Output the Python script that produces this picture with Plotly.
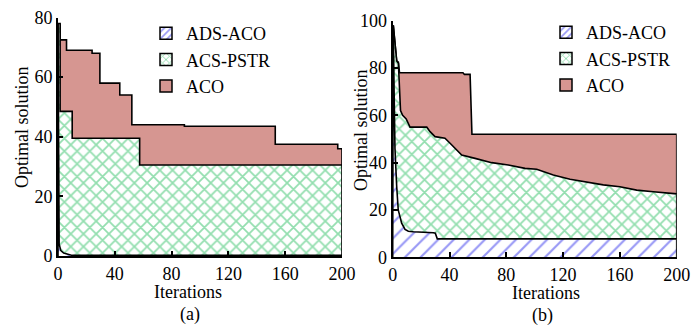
import plotly.graph_objects as go

W, H = 691, 331

# ---------------- data: panel (a) ----------------
a_aco_x = [0, 1.5, 6, 24, 29.5, 43.5, 52, 89, 153, 197, 200]
a_aco_y = [77.5, 72.5, 69, 68, 58, 54, 44, 43.5, 37.5, 36, 36]
a_acs_x = [0, 1.5, 10, 57.5, 200]
a_acs_y = [78, 48.5, 39.5, 30.5, 30.5]
a_ads_x = [0, 0.8, 2, 4, 10, 200]
a_ads_y = [78, 4, 1.8, 1, 0.2, 0.2]

# ---------------- data: panel (b) ----------------
b_aco_x = [0, 0.4, 2.8, 4, 4.8, 49.5, 50.5, 54.5, 55.8, 200]
b_aco_y = [92, 98, 83, 82.5, 78, 78, 77.3, 77.3, 52, 52]
b_acs_x = [0, 0.4, 2.8, 4, 5.5, 7, 9.5, 11.5, 12.2, 24, 26.3, 29.8, 36.8, 40.4,
           45.1, 48.6, 58, 69.7, 81.4, 93.2, 101.4, 113.1, 124.9, 136.6, 148.3,
           160, 171.8, 183.5, 198.8, 200]
b_acs_y = [92, 98, 83, 82, 62, 60, 58.5, 56, 55, 55, 53.1, 51, 50.3, 48.2,
           45.4, 43.2, 41.8, 40, 39, 37.6, 37.2, 34.8, 33, 31.7, 30.6,
           29.8, 28.4, 27.7, 27, 26.8]
b_ads_x = [0, 0.4, 1, 1.6, 2.8, 3.9, 6.3, 8.7, 11, 14.5, 28.6, 30, 31.4, 200]
b_ads_y = [92, 98, 70, 46, 30, 20, 14.4, 11.8, 11, 10.8, 10.4, 10.2, 7.8, 7.8]

names = ["ADS-ACO", "ACS-PSTR", "ACO"]
x_ticks = [0, 40, 80, 120, 160, 200]
ya_ticks = [0, 20, 40, 60, 80]
yb_ticks = [0, 20, 40, 60, 80, 100]

ACO_COLOR = "rgb(214,150,145)"
GREEN = "rgb(40,190,95)"
BLUE = "rgb(50,50,235)"
FONT = "Liberation Serif"

styles = {
    "ACO": dict(fillcolor=ACO_COLOR, pattern=None),
    "ACS-PSTR": dict(fillcolor="white",
                     pattern=dict(shape="x", fgcolor=GREEN, bgcolor="white", size=9, solidity=0.35)),
    "ADS-ACO": dict(fillcolor="white",
                    pattern=dict(shape="/", fgcolor=BLUE, bgcolor="white", size=11, solidity=0.2)),
}

fig = go.Figure()


def closed(xs, ys):
    # close the area down to zero so the outline frames the filled region
    return [xs[0]] + list(xs) + [xs[-1]], [0] + list(ys) + [0]


def add_area(name, xs, ys, xa, ya, shape):
    cx, cy = closed(xs, ys)
    st = styles[name]
    kw = dict(x=cx, y=cy, mode="lines", fill="toself", fillcolor=st["fillcolor"],
              line=dict(color="black", width=1.6, shape=shape),
              xaxis=xa, yaxis=ya, showlegend=False, hoverinfo="skip", name=name)
    if st["pattern"] is not None:
        kw["fillpattern"] = st["pattern"]
    fig.add_trace(go.Scatter(**kw))


# draw back-to-front
add_area("ACO", a_aco_x, a_aco_y, "x", "y", "hv")
add_area("ACS-PSTR", a_acs_x, a_acs_y, "x", "y", "hv")
add_area("ADS-ACO", a_ads_x, a_ads_y, "x", "y", "linear")
add_area("ACO", b_aco_x, b_aco_y, "x2", "y2", "linear")
add_area("ACS-PSTR", b_acs_x, b_acs_y, "x2", "y2", "linear")
add_area("ADS-ACO", b_ads_x, b_ads_y, "x2", "y2", "linear")

# legend entries (empty bars so the swatches show the patterns)
for leg, xa, ya in [("legend", "x", "y"), ("legend2", "x2", "y2")]:
    for nm in names:
        st = styles[nm]
        marker = dict(color=st["fillcolor"], line=dict(color="black", width=1.5))
        if st["pattern"] is not None:
            p = dict(st["pattern"])
            p["size"] = 6
            p["solidity"] = 0.35
            marker["pattern"] = p
        fig.add_trace(go.Bar(x=[None], y=[None], name=nm, marker=marker,
                             xaxis=xa, yaxis=ya, legend=leg, showlegend=True,
                             hoverinfo="skip"))

axis_common = dict(showline=True, linecolor="black", linewidth=2, ticks="inside",
                   ticklen=5, tickwidth=1.5, tickcolor="black", showgrid=False,
                   zeroline=False, automargin=False,
                   tickfont=dict(family=FONT, size=18, color="black"))

fig.update_layout(
    width=W, height=H,
    margin=dict(l=0, r=0, t=0, b=0),
    paper_bgcolor="white", plot_bgcolor="white",
    xaxis=dict(domain=[58 / W, 342 / W], range=[0, 200], tickvals=x_ticks, anchor="y", **axis_common),
    yaxis=dict(domain=[(H - 256) / H, (H - 17.5) / H], range=[0, 80], tickvals=ya_ticks, anchor="x", **axis_common),
    xaxis2=dict(domain=[392.7 / W, 676.7 / W], range=[0, 200], tickvals=x_ticks, anchor="y2", **axis_common),
    yaxis2=dict(domain=[(H - 257.3) / H, (H - 20.7) / H], range=[0, 100], tickvals=yb_ticks, anchor="x2", **axis_common),
    legend=dict(x=146 / W, y=1 - 15 / H, xanchor="left", yanchor="top",
                bgcolor="rgba(0,0,0,0)", font=dict(family=FONT, size=18, color="black")),
    legend2=dict(x=546 / W, y=1 - 14 / H, xanchor="left", yanchor="top",
                 bgcolor="rgba(0,0,0,0)", font=dict(family=FONT, size=18, color="black")),
    showlegend=True,
)


def ann(text, px, py, angle=0):
    fig.add_annotation(text=text, x=px / W, y=1 - py / H, xref="paper", yref="paper",
                       showarrow=False, textangle=angle, xanchor="center", yanchor="middle",
                       font=dict(family=FONT, size=18, color="black"))


ann("Iterations", 188, 292)
ann("(a)", 189.5, 314)
ann("Iterations", 546, 293)
ann("(b)", 542.5, 315)
ann("Optimal solution", 22, 127, -90)
ann("Optimal solution", 361, 130, -90)

fig.write_html("out.html")
